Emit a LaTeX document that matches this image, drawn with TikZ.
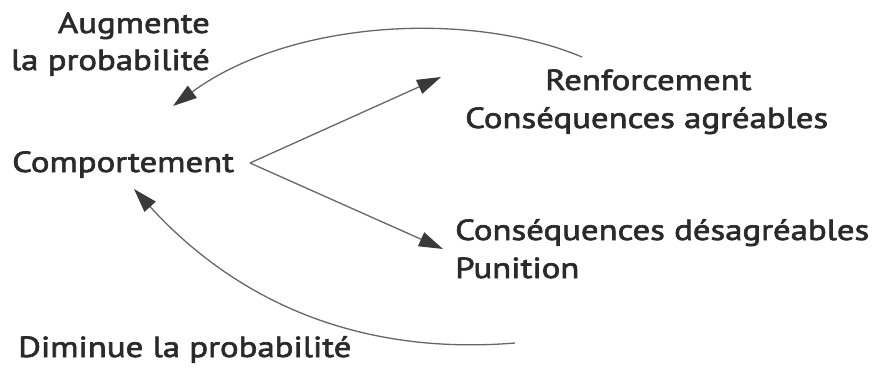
\documentclass[tikz,border=0pt]{standalone}
\usepackage{fontspec}
\setmainfont{PT Sans}[FakeStretch=1.2,FakeBold=2.2]
\usetikzlibrary{arrows.meta}
\definecolor{txt}{HTML}{2A2A2A}
\definecolor{ln}{HTML}{666666}
\definecolor{hd}{HTML}{3A3A3A}
\tikzset{
  lbl/.style={inner sep=0pt, text=txt, font=\fontsize{29}{34}\selectfont},
  conn/.style={draw=ln, line width=1.3pt, -{Triangle[length=24pt,width=15pt,color=hd]}},
}
\begin{document}
\begin{tikzpicture}[x=1pt,y=-1pt]
\useasboundingbox (0,0) rectangle (881,367);
\node[lbl, anchor=base east] (aug1) at (210,33) {Augmente};
\node[lbl, anchor=base east] (aug2) at (210,70) {la probabilité};
\node[lbl, anchor=base west] (comp) at (12,172) {Comportement};
\node[lbl, anchor=base west] (renf) at (545,90) {Renforcement};
\node[lbl, anchor=base west] (agr) at (465,128) {Conséquences agréables};
\node[lbl, anchor=base west] (des) at (455,240) {Conséquences désagréables};
\node[lbl, anchor=base west] (pun) at (455,278) {Punition};
\node[lbl, anchor=base west] (dim) at (18,357) {Diminue la probabilité};
\coordinate (v) at (250,163);
\coordinate (tr) at (441,77);
\coordinate (br) at (443,249);
\coordinate (cs) at (582,57);
\coordinate (ce) at (173,106);
\coordinate (ds) at (515,343);
\coordinate (de) at (134,189);
\draw[conn] (v) -- (tr);
\draw[conn] (v) -- (br);
\draw[conn] (cs) .. controls (470,10) and (290,20) .. (ce);
\draw[conn] (ds) .. controls (330,358) and (215,278) .. (de);
\end{tikzpicture}
\end{document}
